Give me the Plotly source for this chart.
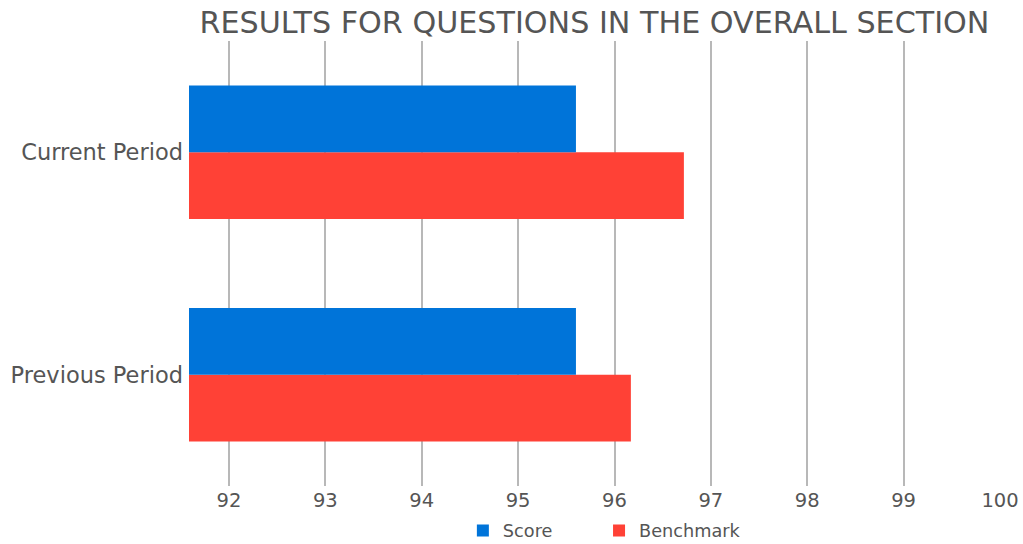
import plotly.graph_objects as go

categories = ["Previous Period", "Current Period"]
score = [95.6, 95.6]
benchmark = [96.17, 96.72]
x_ticks = [92, 93, 94, 95, 96, 97, 98, 99, 100]

BLUE = "#0074D9"
RED = "#FF4136"
TXT = "#555555"
FONT = "DejaVu Sans"

fig = go.Figure()
fig.add_trace(go.Bar(y=categories, x=benchmark, name="Benchmark", orientation="h",
                     marker=dict(color=RED, line=dict(width=0)), legend="legend2"))
fig.add_trace(go.Bar(y=categories, x=score, name="Score", orientation="h",
                     marker=dict(color=BLUE, line=dict(width=0)), legend="legend"))

legend_common = dict(orientation="h", xanchor="left", xref="paper",
                     y=0.024, yanchor="middle", yref="container",
                     font=dict(size=17.7, color=TXT), bgcolor="rgba(0,0,0,0)")

fig.update_layout(
    width=1023, height=544,
    margin=dict(l=189, r=23, t=41, b=58, autoexpand=False),
    paper_bgcolor="white", plot_bgcolor="white",
    barmode="group", bargap=0.4, bargroupgap=0,
    font=dict(family=FONT, color=TXT),
    title=dict(text="RESULTS FOR QUESTIONS IN THE OVERALL SECTION",
               font=dict(family=FONT, size=30.2, color=TXT),
               x=0.5, xref="paper", xanchor="center", y=0.958, yanchor="middle"),
    xaxis=dict(range=[91.585, 100], tickvals=x_ticks, ticktext=[str(t) for t in x_ticks],
               showgrid=True, gridcolor="#b8b8b8", gridwidth=1.5,
               zeroline=False, showline=False, automargin=False,
               tickfont=dict(size=19.5, color=TXT), ticks="", ticklabelstandoff=0),
    yaxis=dict(categoryorder="array", categoryarray=categories,
               showgrid=False, zeroline=False, showline=False, automargin=False,
               tickfont=dict(size=22.5, color=TXT), ticks="", ticklabelstandoff=5),
    legend=dict(x=0.3377, **legend_common),
    legend2=dict(x=0.5056, **legend_common),
    showlegend=True,
)

fig.write_html("out.html")
